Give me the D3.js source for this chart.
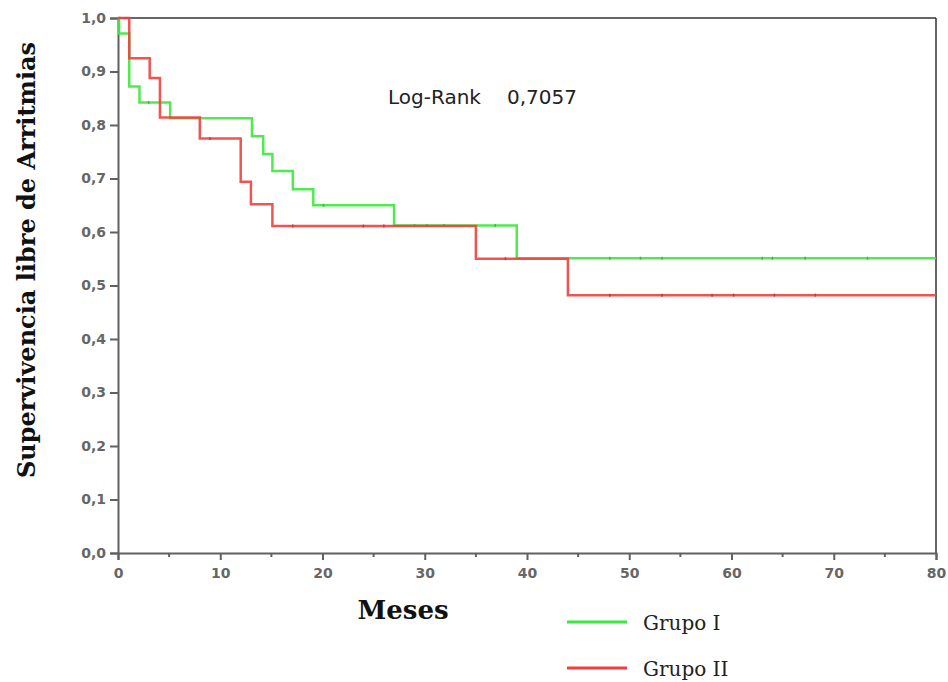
<!DOCTYPE html>
<html>
<head>
<meta charset="utf-8">
<script src="https://cdn.jsdelivr.net/npm/d3@7"></script>
<style>
  body { margin: 0; background: #fff; }
</style>
</head>
<body>
<div id="chart"></div>
<script>
// Kaplan-Meier curves (months, survival free of arrhythmia)
const grupo1Times = [0, 0.1, 1.1, 2.1, 5.1, 13.1, 14.2, 15.1, 17.1, 19.1, 27, 39];
const grupo1Surv  = [1.0, 0.971, 0.872, 0.842, 0.8125, 0.779, 0.746, 0.714, 0.680, 0.650, 0.612, 0.551];
const grupo1Censor = [3, 20.1, 29, 30.2, 31.9, 36.9, 48.1, 51.1, 53.2, 63, 64, 67.2, 73.3];

const grupo2Times = [0, 1.1, 3.1, 4.1, 8, 12, 13, 15.1, 35, 44];
const grupo2Surv  = [1.0, 0.925, 0.888, 0.814, 0.775, 0.694, 0.652, 0.611, 0.55, 0.482];
const grupo2Censor = [9, 17.1, 24, 26, 37.9, 48.1, 53.2, 58.1, 60.2, 64.2, 68.2];

const xTicks = [0, 10, 20, 30, 40, 50, 60, 70, 80];
const xMinorTicks = [5, 15, 25, 35, 45, 55, 65, 75];
const yTicks = [0, 0.1, 0.2, 0.3, 0.4, 0.5, 0.6, 0.7, 0.8, 0.9, 1.0];
const maxTime = 80;

const series = [
  { name: 'Grupo I', times: grupo1Times, surv: grupo1Surv, censor: grupo1Censor, color: '#3de83d', tick: '#34c034' },
  { name: 'Grupo II', times: grupo2Times, surv: grupo2Surv, censor: grupo2Censor, color: '#ef4040', tick: '#cc3535' }
];

const width = 948, height = 682;
const margin = { top: 18, right: 12, bottom: 129, left: 118 };
const innerW = width - margin.left - margin.right;
const innerH = height - margin.top - margin.bottom;

const svg = d3.select('#chart').append('svg')
  .attr('width', width)
  .attr('height', height);

const g = svg.append('g')
  .attr('transform', `translate(${margin.left},${margin.top})`);

const x = d3.scaleLinear().domain([0, maxTime]).range([0, innerW]);
const y = d3.scaleLinear().domain([0, 1]).range([innerH, 0]);

const fmt = d => d3.format('.1f')(d).replace('.', ',');
const axisColor = '#606060';

// frame: top and right edges
g.append('line')
  .attr('x1', 0).attr('x2', innerW).attr('y1', 0).attr('y2', 0)
  .attr('stroke', '#333').attr('stroke-width', 1.5);
g.append('line')
  .attr('x1', innerW).attr('x2', innerW).attr('y1', 0).attr('y2', innerH)
  .attr('stroke', '#333').attr('stroke-width', 1.5);

// y axis
const yAxis = g.append('g')
  .call(d3.axisLeft(y).tickValues(yTicks).tickFormat(fmt).tickSize(8).tickPadding(4));
yAxis.select('.domain').attr('stroke', axisColor).attr('stroke-width', 2);
yAxis.selectAll('.tick line').attr('stroke', axisColor).attr('stroke-width', 2);
yAxis.selectAll('.tick text')
  .attr('fill', '#666')
  .style('font-family', 'DejaVu Sans, sans-serif')
  .style('font-size', '14px')
  .style('font-weight', '600');

// x axis (major + minor ticks)
const xAxis = g.append('g')
  .attr('transform', `translate(0,${innerH})`)
  .call(d3.axisBottom(x).tickValues(xTicks).tickSize(7).tickPadding(8));
xAxis.select('.domain').attr('stroke', axisColor).attr('stroke-width', 2);
xAxis.selectAll('.tick line').attr('stroke', axisColor).attr('stroke-width', 2);
xAxis.selectAll('.tick text')
  .attr('fill', '#666')
  .style('font-family', 'DejaVu Sans, sans-serif')
  .style('font-size', '14px')
  .style('font-weight', '600');

g.append('g')
  .attr('transform', `translate(0,${innerH})`)
  .selectAll('line')
  .data(xMinorTicks)
  .enter()
  .append('line')
  .attr('x1', d => x(d)).attr('x2', d => x(d))
  .attr('y1', 0).attr('y2', 4)
  .attr('stroke', axisColor).attr('stroke-width', 2);

// survival step curves
const line = d3.line()
  .x(d => x(d[0]))
  .y(d => y(d[1]))
  .curve(d3.curveStepAfter);

const survAt = (s, t) => {
  let v = s.surv[0];
  s.times.forEach((tt, i) => { if (tt <= t) v = s.surv[i]; });
  return v;
};

series.forEach(s => {
  const pts = s.times.map((t, i) => [t, s.surv[i]]);
  pts.push([maxTime, s.surv[s.surv.length - 1]]);
  g.append('path')
    .attr('d', line(pts))
    .attr('fill', 'none')
    .attr('stroke', s.color)
    .attr('stroke-width', 2.5)
    .attr('opacity', 0.9);

  // censored observations
  g.append('g')
    .selectAll('line')
    .data(s.censor)
    .enter()
    .append('line')
    .attr('x1', d => x(d)).attr('x2', d => x(d))
    .attr('y1', d => y(survAt(s, d)) - 1.5)
    .attr('y2', d => y(survAt(s, d)) + 1.5)
    .attr('stroke', s.tick)
    .attr('stroke-width', 1.5);
});

// log-rank annotation
g.append('text')
  .attr('x', 270).attr('y', 86)
  .style('font-family', 'DejaVu Sans, sans-serif')
  .style('font-size', '20px')
  .attr('fill', '#222')
  .text('Log-Rank');
g.append('text')
  .attr('x', 389).attr('y', 86)
  .style('font-family', 'DejaVu Sans, sans-serif')
  .style('font-size', '20px')
  .attr('fill', '#222')
  .text('0,7057');

// axis titles
svg.append('text')
  .attr('transform', `translate(35,260) rotate(-90)`)
  .attr('text-anchor', 'middle')
  .style('font-family', 'DejaVu Serif, serif')
  .style('font-size', '24px')
  .style('font-weight', 'bold')
  .attr('fill', '#111')
  .text('Supervivencia libre de Arritmias');

svg.append('text')
  .attr('x', 403).attr('y', 619)
  .attr('text-anchor', 'middle')
  .style('font-family', 'DejaVu Serif, serif')
  .style('font-size', '26px')
  .style('font-weight', 'bold')
  .attr('fill', '#111')
  .text('Meses');

// legend
const legend = svg.append('g').attr('transform', 'translate(567,622)');
series.forEach((s, i) => {
  const row = legend.append('g').attr('transform', `translate(0,${i * 46})`);
  row.append('line')
    .attr('x1', 0).attr('x2', 60)
    .attr('y1', 0).attr('y2', 0)
    .attr('stroke', s.color)
    .attr('stroke-width', 3);
  row.append('text')
    .attr('x', 76).attr('y', 8)
    .style('font-family', 'DejaVu Serif, serif')
    .style('font-size', '20px')
    .attr('fill', '#222')
    .text(s.name);
});
</script>
</body>
</html>
